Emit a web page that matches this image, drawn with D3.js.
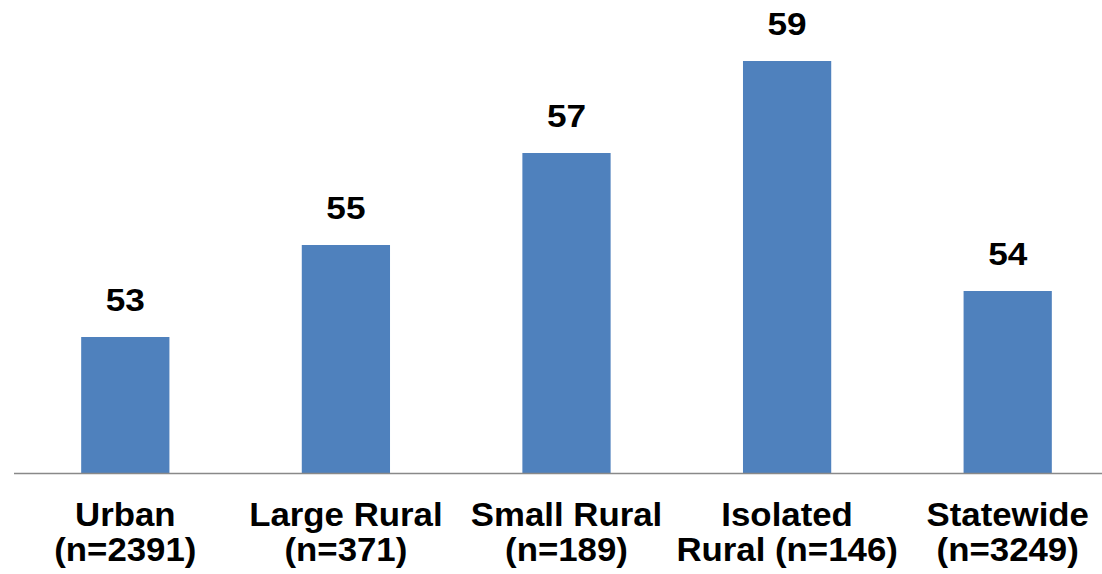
<!DOCTYPE html>
<html>
<head>
<meta charset="utf-8">
<script src="https://cdn.jsdelivr.net/npm/d3@7"></script>
<style>
  html, body { margin: 0; padding: 0; background: #fff; }
  svg { display: block; }
</style>
</head>
<body>
<svg id="chart" width="1102" height="574"></svg>
<script>
// Data
const categories = ["Urban", "Large Rural", "Small Rural", "Isolated Rural", "Statewide"];
const labelLine1 = ["Urban", "Large Rural", "Small Rural", "Isolated", "Statewide"];
const labelLine2 = ["(n=2391)", "(n=371)", "(n=189)", "Rural (n=146)", "(n=3249)"];
const values = [53, 55, 57, 59, 54];
const yDomain = [50, 60];

const svg = d3.select("#chart");
const baseline = 474;

const x = d3.scaleBand()
  .domain(categories)
  .range([15, 1118])
  .paddingInner(0.6)
  .paddingOuter(0.3);

const y = d3.scaleLinear()
  .domain(yDomain)
  .range([475, 15]);

const cx = c => x(c) + x.bandwidth() / 2;

// Bars
svg.append("g").selectAll("rect")
  .data(values)
  .join("rect")
  .attr("x", (d, i) => x(categories[i]))
  .attr("y", d => y(d))
  .attr("width", x.bandwidth())
  .attr("height", d => baseline - y(d))
  .attr("fill", "#4F81BD");

// Axis line
const xAxis = d3.axisBottom(x).tickSize(0).tickFormat("");
const ax = svg.append("g").attr("transform", `translate(0,473.5)`).call(xAxis);
ax.select(".domain").attr("stroke", "#898989").attr("stroke-width", 1.5)
  .attr("d", `M14,0H1102`);

// Value labels
svg.append("g").selectAll("text")
  .data(values)
  .join("text")
  .attr("transform", (d, i) => `translate(${cx(categories[i])},${y(d) - 26}) scale(1.1,1)`)
  .attr("text-anchor", "middle")
  .attr("font-family", "Liberation Sans, Arial, sans-serif")
  .attr("font-weight", "bold")
  .attr("font-size", 32)
  .attr("fill", "#000")
  .text(d => d);

// Category labels
const lab = svg.append("g").selectAll("g")
  .data(categories)
  .join("g")
  .attr("transform", d => `translate(${cx(d)},0) scale(1.055,1)`);
lab.append("text")
  .attr("text-anchor", "middle")
  .attr("font-family", "Liberation Sans, Arial, sans-serif")
  .attr("font-weight", "bold")
  .attr("font-size", 33)
  .attr("fill", "#000")
  .attr("y", 526)
  .text((d, i) => labelLine1[i]);
lab.append("text")
  .attr("text-anchor", "middle")
  .attr("font-family", "Liberation Sans, Arial, sans-serif")
  .attr("font-weight", "bold")
  .attr("font-size", 33)
  .attr("fill", "#000")
  .attr("y", 561)
  .text((d, i) => labelLine2[i]);
</script>
</body>
</html>
